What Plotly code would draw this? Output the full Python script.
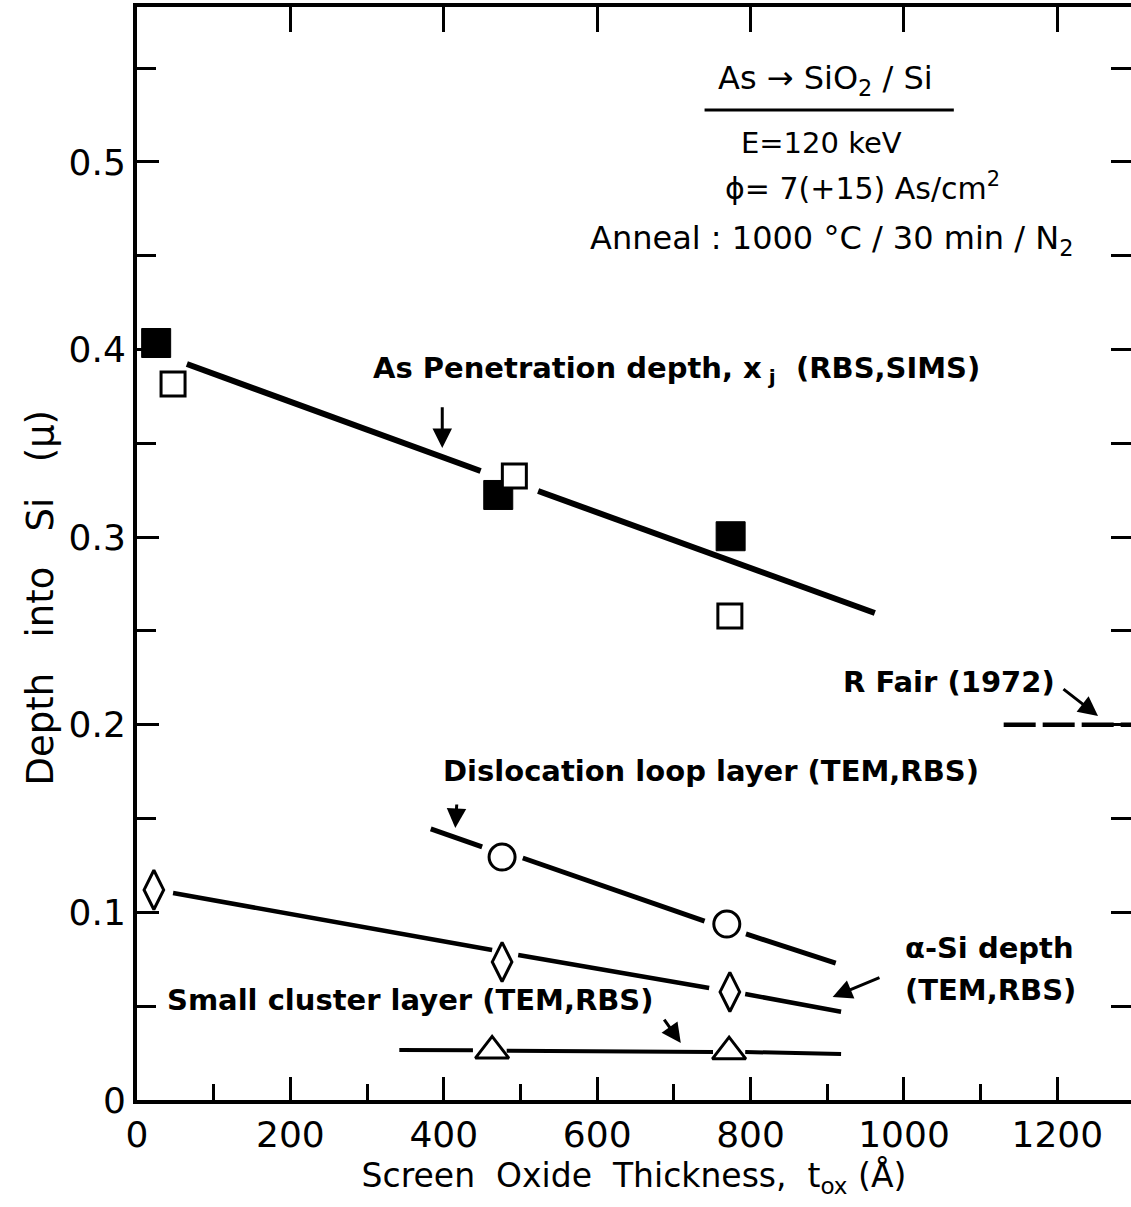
import plotly.graph_objects as go

# ---------------- data ----------------
# As penetration depth x_j
filled_sq_x = [25, 471, 774]
filled_sq_y = [0.4035, 0.3225, 0.3005]
open_sq_x = [47, 492, 773]
open_sq_y = [0.3817, 0.3326, 0.258]
as_fit_x = [65, 448, None, 523, 962]
as_fit_y = [0.3923, 0.3353, None, 0.3246, 0.2596]

# Dislocation loop layer
circ_x = [476, 769]
circ_y = [0.1295, 0.0938]
disl_fit_x = [383, 450, None, 503, 740, None, 794, 911]
disl_fit_y = [0.1445, 0.1349, None, 0.1290, 0.0954, None, 0.0885, 0.0730]

# alpha-Si depth
diam_x = [22, 476, 773]
diam_y = [0.112, 0.0736, 0.0576]
asi_fit_x = [47, 463, None, 497, 746, None, 793, 918]
asi_fit_y = [0.1103, 0.0800, None, 0.0773, 0.0597, None, 0.0565, 0.0470]

# Small cluster layer
tri_x = [463, 772]
tri_y = [0.0262, 0.0258]
clus_fit_x = [342, 438, None, 482, 751, None, 793, 918]
clus_fit_y = [0.0267, 0.0265, None, 0.0262, 0.0256, None, 0.0256, 0.0245]

# R Fair (1972)
fair_x = [1130, 1300]
fair_y = [0.2, 0.2]

x_range = [0, 1296]
y_range = [0, 0.5826]
x_tickvals = [0, 200, 400, 600, 800, 1000, 1200]
x_ticktext = ["0", "200", "400", "600", "800", "1000", "1200"]
y_tickvals = [0, 0.1, 0.2, 0.3, 0.4, 0.5]
y_ticktext = ["0", "0.1", "0.2", "0.3", "0.4", "0.5"]

# ---------------- figure ----------------
fig = go.Figure()
line_col = "black"

fig.add_trace(go.Scatter(x=as_fit_x, y=as_fit_y, mode="lines",
                         line=dict(color=line_col, width=6), showlegend=False))
fig.add_trace(go.Scatter(x=disl_fit_x, y=disl_fit_y, mode="lines",
                         line=dict(color=line_col, width=5), showlegend=False))
fig.add_trace(go.Scatter(x=asi_fit_x, y=asi_fit_y, mode="lines",
                         line=dict(color=line_col, width=4.5), showlegend=False))
fig.add_trace(go.Scatter(x=clus_fit_x, y=clus_fit_y, mode="lines",
                         line=dict(color=line_col, width=4), showlegend=False))
fig.add_trace(go.Scatter(x=fair_x, y=fair_y, mode="lines",
                         line=dict(color=line_col, width=4.5, dash="32px,7px"),
                         showlegend=False))

fig.add_trace(go.Scatter(x=filled_sq_x, y=filled_sq_y, mode="markers",
                         marker=dict(symbol="square", size=29, color="black",
                                     line=dict(color="black", width=1)),
                         showlegend=False))
fig.add_trace(go.Scatter(x=open_sq_x, y=open_sq_y, mode="markers",
                         marker=dict(symbol="square", size=24, color="white",
                                     line=dict(color="black", width=3)),
                         showlegend=False))
fig.add_trace(go.Scatter(x=circ_x, y=circ_y, mode="markers",
                         marker=dict(symbol="circle", size=26, color="white",
                                     line=dict(color="black", width=3)),
                         showlegend=False))
fig.add_trace(go.Scatter(x=diam_x, y=diam_y, mode="markers",
                         marker=dict(symbol="diamond-tall", size=28, color="white",
                                     line=dict(color="black", width=3)),
                         showlegend=False))
fig.add_trace(go.Scatter(x=tri_x, y=tri_y, mode="markers",
                         marker=dict(symbol="triangle-up", size=29, color="white",
                                     line=dict(color="black", width=3)),
                         showlegend=False))
# carrier trace for the top / right tick axes
fig.add_trace(go.Scatter(x=[None], y=[None], xaxis="x2", yaxis="y2",
                         mode="markers", showlegend=False, hoverinfo="skip"))

tick_font = dict(family="DejaVu Sans", size=36, color="black")
title_font = dict(family="DejaVu Sans", size=33, color="black")

fig.update_layout(
    width=1131, height=1207,
    margin=dict(l=137, r=0, t=7, b=107),
    paper_bgcolor="white", plot_bgcolor="white",
    xaxis=dict(range=x_range, showgrid=False, zeroline=False,
               showline=True, linecolor="black", linewidth=4,
               ticks="inside", ticklen=23, tickwidth=3, tickcolor="black",
               tickvals=x_tickvals, ticktext=x_ticktext, tickfont=tick_font,
               ticklabelstandoff=0,
               minor=dict(dtick=100, tick0=0, ticks="inside", ticklen=16,
                          tickwidth=3, tickcolor="black", showgrid=False),
               title=dict(text="Screen  Oxide  Thickness,  t<sub>ox</sub> (Å)",
                          font=title_font, standoff=8)),
    yaxis=dict(range=y_range, showgrid=False, zeroline=False,
               showline=True, linecolor="black", linewidth=4,
               ticks="inside", ticklen=22, tickwidth=3, tickcolor="black",
               tickvals=y_tickvals, ticktext=y_ticktext, tickfont=tick_font,
               minor=dict(dtick=0.05, tick0=0, ticks="inside", ticklen=19,
                          tickwidth=3, tickcolor="black", showgrid=False)),
    xaxis2=dict(range=x_range, overlaying="x", side="top", anchor="y",
                showgrid=False, zeroline=False, showline=True,
                linecolor="black", linewidth=4, ticks="inside", ticklen=25,
                tickwidth=3, tickcolor="black", dtick=200, tick0=0,
                showticklabels=False),
    yaxis2=dict(range=y_range, overlaying="y", side="right", anchor="x",
                showgrid=False, zeroline=False, showline=False,
                ticks="inside", ticklen=20, tickwidth=3, tickcolor="black",
                dtick=0.05, tick0=0, showticklabels=False),
)

# y-axis title (placed along the axis as in the original)
fig.add_annotation(xref="paper", yref="y", x=-0.097, y=0.2676,
                   text="Depth   into   Si   (μ)", textangle=-90,
                   showarrow=False, xanchor="center", yanchor="middle",
                   font=dict(family="DejaVu Sans", size=37, color="black"))

def box_font(size):
    return dict(family="DejaVu Sans", size=size, color="black")

lab_font = dict(family="DejaVu Sans", size=29, color="black", weight="bold")

annots = [
    dict(x=898, y=0.5437, text="As → SiO<sub>2</sub> / Si", font=box_font(32)),
    dict(x=893, y=0.5101, text="E=120 keV", font=box_font(29)),
    dict(x=946, y=0.4867, text="ϕ= 7(+15) As/cm<sup>2</sup>", font=box_font(30)),
    dict(x=906, y=0.4584, text="Anneal : 1000 °C / 30 min / N<sub>2</sub>", font=box_font(32)),
    dict(x=703, y=0.389, text="As Penetration depth, x<sub> j</sub>  (RBS,SIMS)", font=lab_font),
    dict(x=1059, y=0.2228, text="R Fair (1972)", font=lab_font),
    dict(x=748, y=0.1754, text="Dislocation loop layer (TEM,RBS)", font=lab_font),
    dict(x=999, y=0.081, text="α-Si depth", font=lab_font, xanchor="left"),
    dict(x=999, y=0.0586, text="(TEM,RBS)", font=lab_font, xanchor="left"),
    dict(x=36, y=0.0533, text="Small cluster layer (TEM,RBS)", font=lab_font, xanchor="left"),
]
for a in annots:
    a.setdefault("xanchor", "center")
    fig.add_annotation(xref="x", yref="y", showarrow=False, yanchor="middle", **a)

arrows = [
    # (head x, head y, tail x, tail y)
    (398, 0.3475, 398, 0.370),
    (1253, 0.2047, 1206, 0.2196),
    (415, 0.145, 417, 0.1583),
    (907, 0.0549, 970, 0.0656),
    (709, 0.0304, 686, 0.0437),
]
for hx, hy, tx, ty in arrows:
    fig.add_annotation(x=hx, y=hy, ax=tx, ay=ty, xref="x", yref="y",
                       axref="x", ayref="y", text="", showarrow=True,
                       arrowhead=2, arrowsize=1.3, arrowwidth=3,
                       arrowcolor="black")

# underline of the header
fig.add_shape(type="line", xref="x", yref="y", x0=740, x1=1065,
              y0=0.5277, y1=0.5277, line=dict(color="black", width=3))

fig.write_html("out.html",
               config={"displayModeBar": False},
               post_script="document.body.style.margin='0px';"
                           "document.body.style.overflow='hidden';")
